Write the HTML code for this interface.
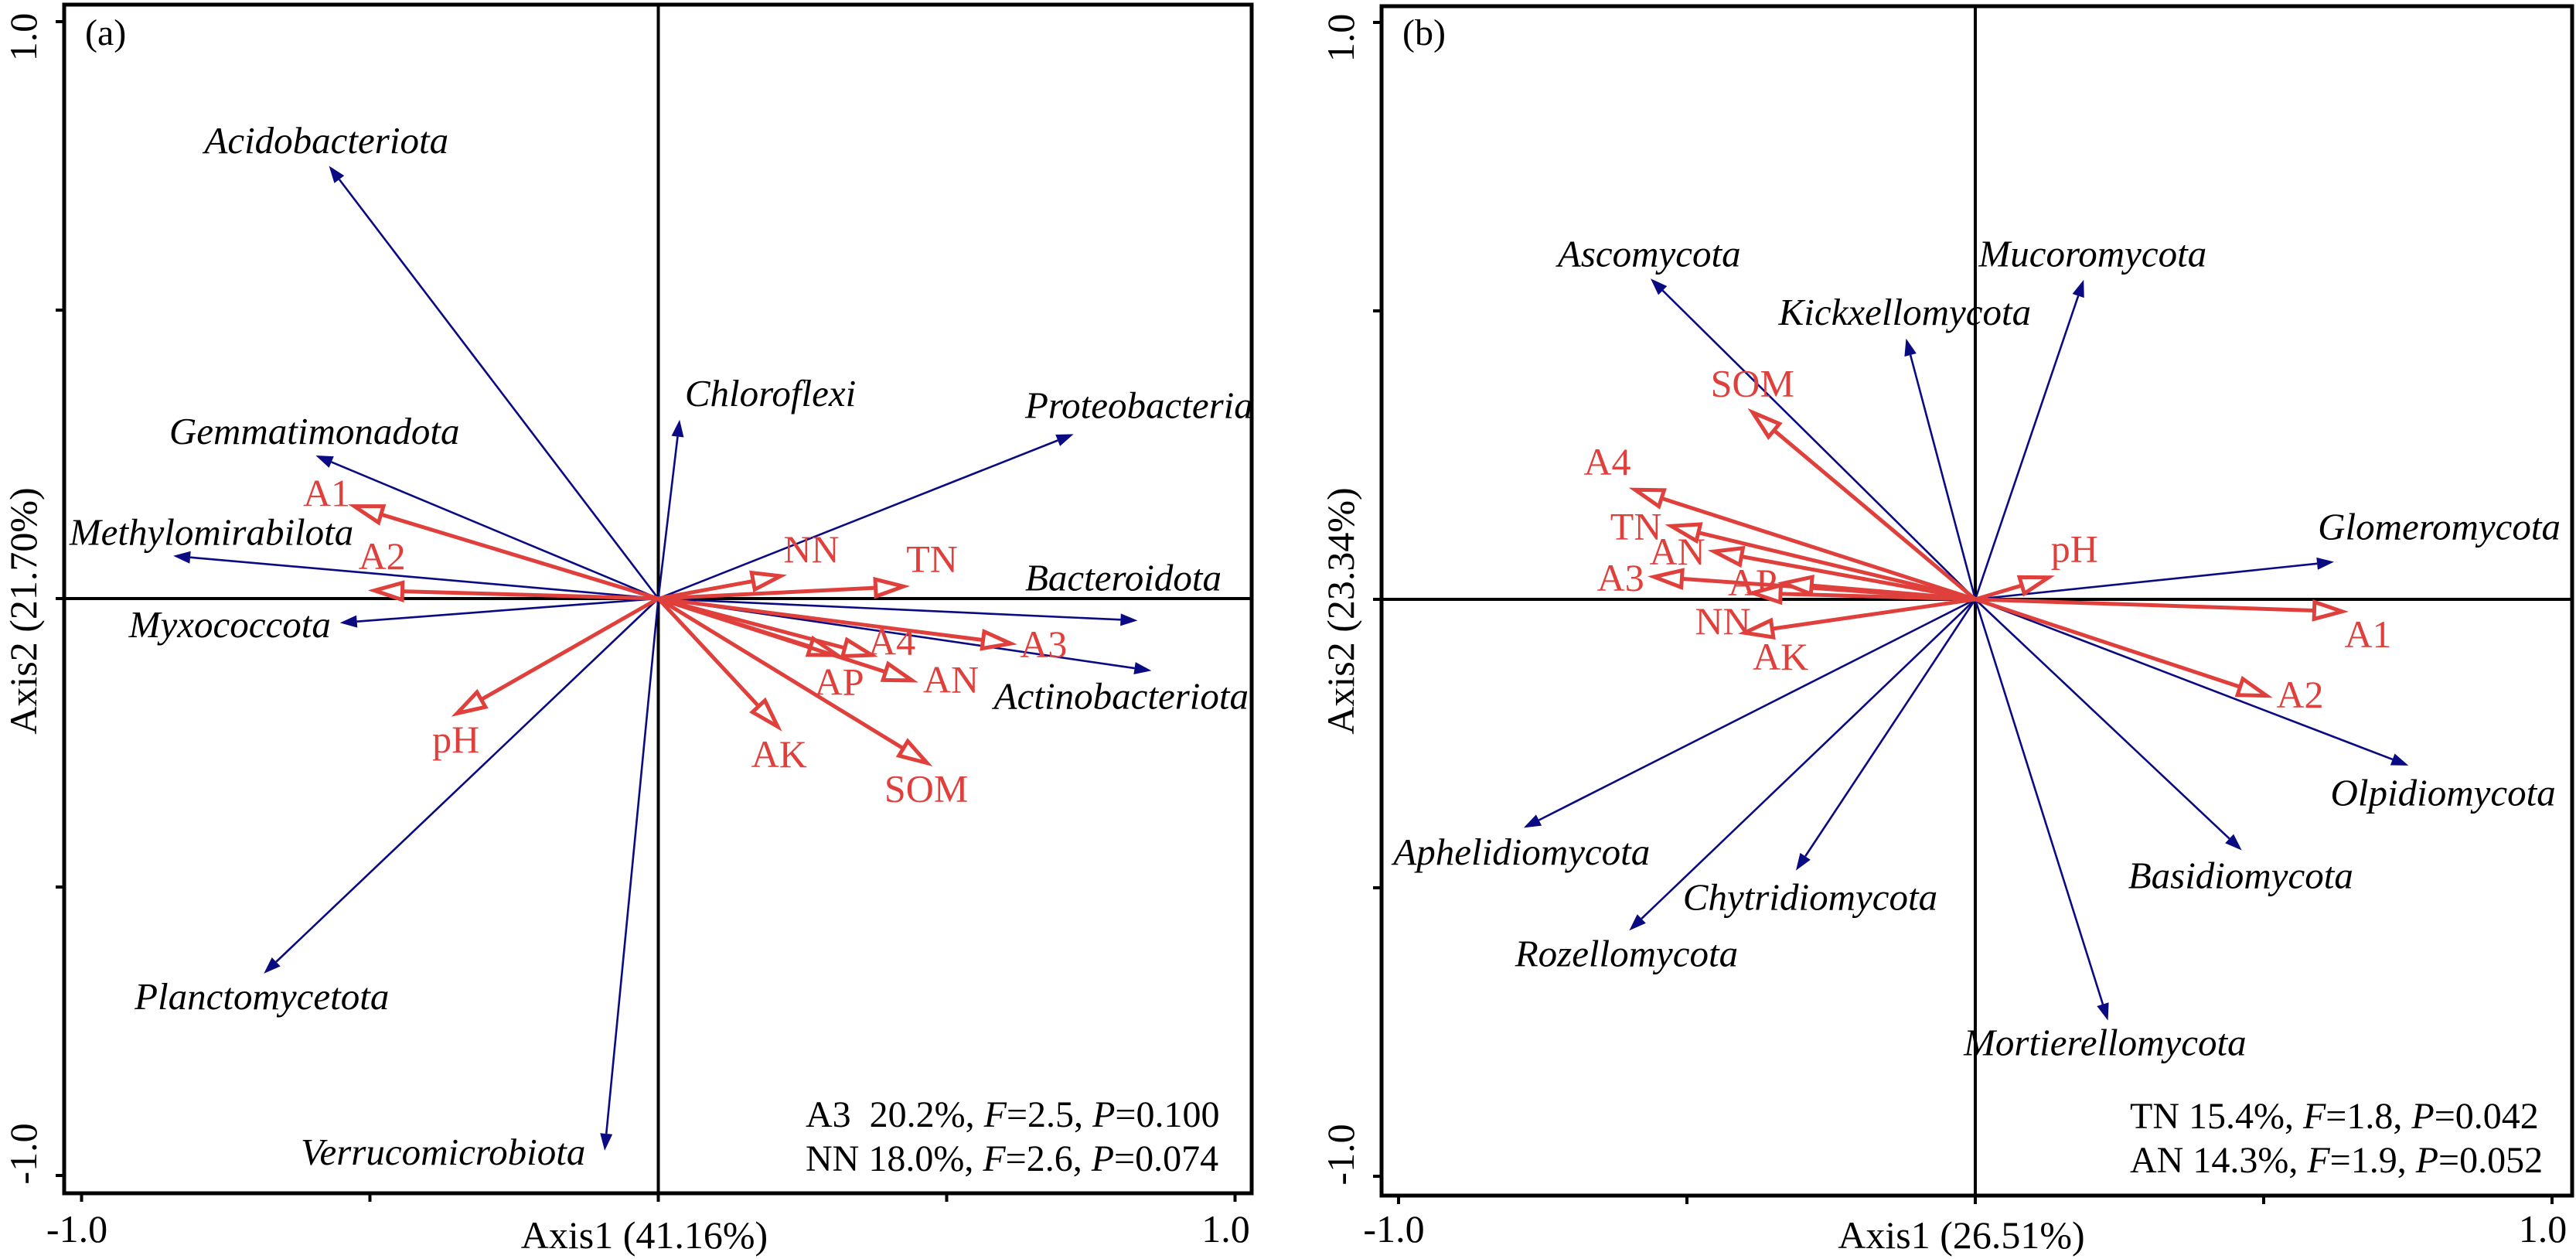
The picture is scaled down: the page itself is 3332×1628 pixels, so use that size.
<!DOCTYPE html>
<html><head><meta charset="utf-8"><style>
html,body{margin:0;padding:0;background:#fff;}
svg{display:block;font-family:"Liberation Serif","Times New Roman",Times,"DejaVu Serif",serif;}
svg text{font-family:"Liberation Serif","Times New Roman",Times,"DejaVu Serif",serif;white-space:pre;}
</style></head>
<body>
<svg id="chart" width="3332" height="1628" viewBox="0 0 3332 1628" xmlns="http://www.w3.org/2000/svg"></svg>
<script>
// ---------- Panel (a) data ----------
const taxaA = ["Acidobacteriota","Chloroflexi","Proteobacteria","Gemmatimonadota","Methylomirabilota","Myxococcota","Bacteroidota","Actinobacteriota","Planctomycetota","Verrucomicrobiota"];
const taxaAx = [-0.571,0.037,0.72,-0.594,-0.841,-0.552,0.831,0.855,-0.684,-0.093];
const taxaAy = [0.75,0.31,0.285,0.248,0.074,-0.042,-0.038,-0.125,-0.65,-0.957];
const taxaALx = [-0.787,0.046,0.636,-0.848,-1.021,-0.918,0.636,0.582,-0.908,-0.62];
const taxaALy = [0.772,0.334,0.313,0.268,0.093,-0.067,0.014,-0.191,-0.712,-0.981];
const envA = ["A1","A2","NN","TN","A3","A4","AP","AN","AK","SOM","pH"];
const envAx = [-0.527,-0.492,0.212,0.425,0.611,0.37,0.31,0.44,0.207,0.466,-0.349];
const envAy = [0.16,0.014,0.039,0.021,-0.078,-0.098,-0.098,-0.142,-0.222,-0.285,-0.199];
const envALx = [-0.616,-0.52,0.217,0.43,0.627,0.364,0.271,0.459,0.161,0.392,-0.392];
const envALy = [0.16,0.051,0.063,0.046,-0.102,-0.097,-0.167,-0.163,-0.292,-0.352,-0.267];
const statsA = [["A3  20.2%, ","2.5","0.100"],["NN 18.0%, ","2.6","0.074"]];
// ---------- Panel (b) data ----------
const taxaB = ["Ascomycota","Kickxellomycota","Mucoromycota","Glomeromycota","Olpidiomycota","Basidiomycota","Mortierellomycota","Chytridiomycota","Rozellomycota","Aphelidiomycota"];
const taxaBx = [-0.563,-0.12,0.188,0.622,0.751,0.462,0.23,-0.311,-0.6,-0.783];
const taxaBy = [0.556,0.452,0.554,0.065,-0.288,-0.435,-0.73,-0.47,-0.574,-0.396];
const taxaBLx = [-0.724,-0.341,0.006,0.594,0.616,0.265,-0.02,-0.507,-0.798,-1.009];
const taxaBLy = [0.577,0.476,0.577,0.104,-0.357,-0.501,-0.79,-0.538,-0.636,-0.46];
const envB = ["SOM","A4","TN","AN","A3","AP","NN","AK","pH","A1","A2"];
const envBx = [-0.386,-0.59,-0.527,-0.453,-0.557,-0.332,-0.386,-0.4,0.127,0.636,0.505];
const envBy = [0.324,0.19,0.127,0.083,0.039,0.028,0.011,-0.058,0.038,-0.021,-0.167];
const envBLx = [-0.459,-0.679,-0.633,-0.565,-0.656,-0.429,-0.486,-0.386,0.131,0.64,0.522];
const envBLy = [0.352,0.216,0.104,0.06,0.015,0.007,-0.06,-0.122,0.065,-0.083,-0.188];
const statsB = [["TN 15.4%, ","1.8","0.042"],["AN 14.3%, ","1.9","0.052"]];
const tickVals = [-1,-0.5,0,0.5,1];
const tickLabels = ["-1.0","","","","1.0"];

const NS="http://www.w3.org/2000/svg";
const svg=document.getElementById('chart');
function el(tag,attrs,parent){const e=document.createElementNS(NS,tag);for(const k in attrs)e.setAttribute(k,attrs[k]);(parent||svg).appendChild(e);return e;}
const BLUE="#0a0a82", RED="#e0403c";

function panel(o){
  const g=el('g',{});
  
  
  const sx=v=>o.cx+v*o.u, sy=v=>o.cy-v*o.u;
  const fr=el('rect',{x:o.L,y:o.T,width:o.R-o.L,height:o.B-o.T,fill:'none',stroke:'#000','stroke-width':5},g);
  
  
  const vl=el('line',{x1:o.cx,y1:o.T,x2:o.cx,y2:o.B,stroke:'#000','stroke-width':4},g);
  
  
  const hl=el('line',{x1:o.L,y1:o.cy,x2:o.R,y2:o.cy,stroke:'#000','stroke-width':4},g);
  
  
  tickVals.forEach((v,i)=>{
    const tx=el('line',{x1:sx(v),y1:o.B,x2:sx(v),y2:o.B+11,stroke:'#000','stroke-width':4},g);
    
    
    const ty=el('line',{x1:o.L-11,y1:sy(v),x2:o.L,y2:sy(v),stroke:'#000','stroke-width':4},g);
    
    
    if(tickLabels[i]){
      const t=el('text',{x:sx(v)+(v<0?-6:-12),y:1606,'font-size':50,'text-anchor':'middle'},g);
      t.textContent=tickLabels[i];
      
      
      const yy=sy(v)+(v<0?-28:20);
      const t2=el('text',{x:o.L-36,y:yy,'font-size':50,'text-anchor':'middle',transform:`rotate(-90 ${o.L-36} ${yy})`},g);
      t2.textContent=tickLabels[i];
      
      
    }
  });
  const xt=el('text',{x:o.cx-18,y:1614,'font-size':50,'text-anchor':'middle'},g);
  xt.textContent=o.xTitle;
  
  
  const ytx=o.L-36, yty=790;
  const yt=el('text',{x:ytx,y:yty,'font-size':50,'text-anchor':'middle',transform:`rotate(-90 ${ytx} ${yty})`},g);
  yt.textContent=o.yTitle;
  
  
  const pl=el('text',{x:o.L+27,y:58,'font-size':48},g);
  pl.textContent=o.label;
  
  
  o.tx.forEach((v,i)=>{
    const x2=sx(v), y2=sy(o.ty[i]);
    const dx=x2-o.cx, dy=y2-o.cy, len=Math.hypot(dx,dy), ux=dx/len, uy=dy/len;
    const hl=22, hw=8;
    const bx=x2-ux*hl, by=y2-uy*hl;
    const ln=el('line',{x1:o.cx,y1:o.cy,x2:bx,y2:by,stroke:BLUE,'stroke-width':2.6},g);
    
    
    const hd=el('polygon',{points:`${x2},${y2} ${bx-uy*hw},${by+ux*hw} ${bx+uy*hw},${by-ux*hw}`,fill:BLUE},g);
    
    
    const t=el('text',{x:sx(o.tlx[i]),y:sy(o.tly[i]),'font-size':49,'font-style':'italic',fill:'#000'},g);
    t.textContent=o.taxa[i];
    
    
  });
  o.ex.forEach((v,i)=>{
    const x2=sx(v), y2=sy(o.ey[i]);
    const dx=x2-o.cx, dy=y2-o.cy, len=Math.hypot(dx,dy), ux=dx/len, uy=dy/len;
    const hl=36, hw=11;
    const bx=x2-ux*hl, by=y2-uy*hl;
    const ln=el('line',{x1:o.cx,y1:o.cy,x2:bx,y2:by,stroke:RED,'stroke-width':5},g);
    
    
    const hd=el('polygon',{points:`${x2},${y2} ${bx-uy*hw},${by+ux*hw} ${bx+uy*hw},${by-ux*hw}`,fill:'#fff',stroke:RED,'stroke-width':5,'stroke-linejoin':'miter'},g);
    
    
    const t=el('text',{x:sx(o.elx[i]),y:sy(o.ely[i]),'font-size':50,fill:RED},g);
    t.textContent=o.env[i];
    
    
  });
  o.stats.forEach((s,i)=>{
    const t=el('text',{x:o.stx,y:o.sty+i*57,'font-size':48},g);
    
    
    const a=el('tspan',{},t); a.textContent=s[0];
    const f=el('tspan',{'font-style':'italic'},t); f.textContent='F';
    const b=el('tspan',{},t); b.textContent='='+s[1]+', ';
    const p=el('tspan',{'font-style':'italic'},t); p.textContent='P';
    const c=el('tspan',{},t); c.textContent='='+s[2];
  });
}
panel({id:'a',label:'(a)',L:83,R:1619,T:6,B:1543,cx:851.5,cy:774,u:746,
  xTitle:'Axis1 (41.16%)',yTitle:'Axis2 (21.70%)',
  taxa:taxaA,tx:taxaAx,ty:taxaAy,tlx:taxaALx,tly:taxaALy,
  env:envA,ex:envAx,ey:envAy,elx:envALx,ely:envALy,stats:statsA,stx:1042,sty:1457});
panel({id:'b',label:'(b)',L:1787,R:3327,T:8,B:1546,cx:2555,cy:775,u:746,
  xTitle:'Axis1 (26.51%)',yTitle:'Axis2 (23.34%)',
  taxa:taxaB,tx:taxaBx,ty:taxaBy,tlx:taxaBLx,tly:taxaBLy,
  env:envB,ex:envBx,ey:envBy,elx:envBLx,ely:envBLy,stats:statsB,stx:2755,sty:1459});
</script>
</body></html>
